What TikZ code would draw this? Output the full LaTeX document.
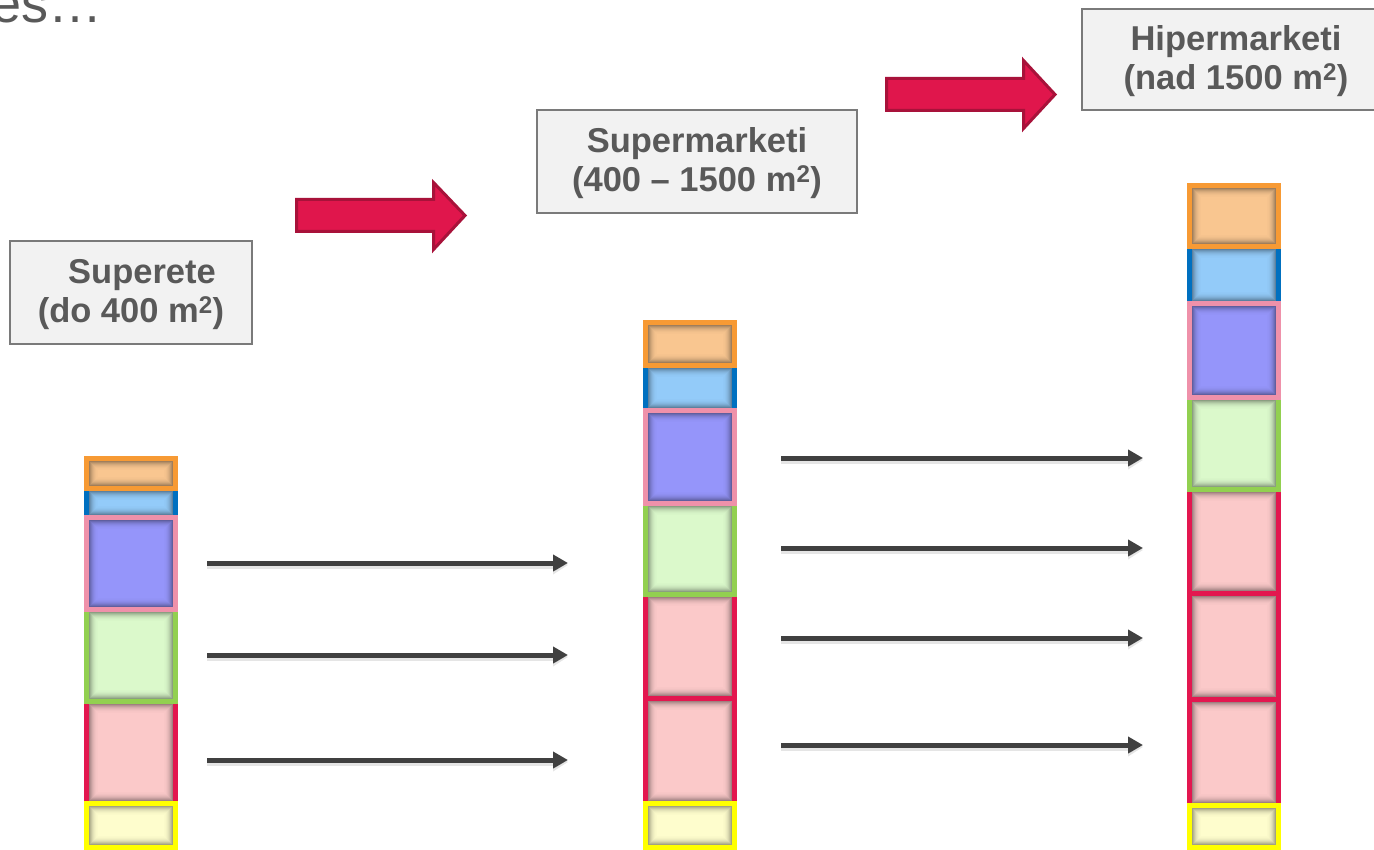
\documentclass[tikz,border=0pt]{standalone}
\usepackage{fontspec}
\setmainfont{Liberation Sans}
\usetikzlibrary{arrows.meta}
\definecolor{txtgray}{HTML}{595959}
\definecolor{lblfill}{HTML}{F2F2F2}
\definecolor{lbldraw}{HTML}{7A7A7A}
\definecolor{arrgray}{HTML}{404040}
\definecolor{bigred}{HTML}{E0164C}
\definecolor{bigredd}{HTML}{A8123A}
\definecolor{orangeB}{HTML}{F79A34}
\definecolor{orangeF}{HTML}{F9C690}
\definecolor{blueB}{HTML}{0070C0}
\definecolor{blueF}{HTML}{93CBF9}
\definecolor{pinkB}{HTML}{EF91AA}
\definecolor{purpleF}{HTML}{9595FA}
\definecolor{greenB}{HTML}{92D050}
\definecolor{greenF}{HTML}{DBF9CB}
\definecolor{redB}{HTML}{E3174F}
\definecolor{redF}{HTML}{FBC9C9}
\definecolor{yellowB}{HTML}{FFFF00}
\definecolor{yellowF}{HTML}{FEFDCD}
\tikzset{
  blk/.style={rectangle, inner sep=0pt, outer sep=0pt, line width=5pt, minimum width=89pt,
    path picture={
      \foreach \i/\o in {3/0.36,4/0.28,5/0.21,6/0.15,7/0.10,8/0.065,9/0.04,10/0.02,11/0.01}{
        \draw[black,opacity=\o,line width=1pt]
          ([xshift=\i pt,yshift=-\i pt]path picture bounding box.north west) rectangle
          ([xshift=-\i pt,yshift=\i pt]path picture bounding box.south east);
      }}},
  lbl/.style={rectangle, draw=lbldraw, fill=lblfill, line width=2pt, inner sep=0pt},
  lbltxt/.style={inner sep=0pt, align=center, text=txtgray, font=\fontsize{34.5}{39}\selectfont\bfseries},
  garrow/.style={draw=arrgray, line width=5pt, -{Triangle[length=15pt,width=16pt]}},
  gshadow/.style={draw=black, opacity=0.10, line width=8pt, -{Triangle[length=15pt,width=18pt]}},
  barrow/.style={draw=bigredd, fill=bigred, line width=3pt, line join=miter}
}
\newcommand\blk[6]{\node[blk,draw=#5,fill=#6,minimum height=#4pt-#3pt] (#1) at (#2,{(#3+#4)/2}) {};}
\begin{document}
\begin{tikzpicture}[x=1pt,y=-1pt]
\useasboundingbox (0,0) rectangle (1374,850);
\fill[white] (0,0) rectangle (1374,850);

% partial title
\node[anchor=base east, inner sep=0pt, text=txtgray, font=\fontsize{54}{60}\selectfont] (title) at (103,23) {es…};

% label boxes
\node[lbl, minimum width=242pt, minimum height=103pt] (lab1) at (131,292.5) {};
\node[lbltxt] (lab1t) at ([yshift=-2pt]lab1.center) {\hspace*{22pt}Superete\\(do 400 m\textsuperscript{2})};
\node[lbl, minimum width=320pt, minimum height=103pt] (lab2) at (697,161.5) {};
\node[lbltxt] (lab2t) at ([yshift=-2pt]lab2.center) {Supermarketi\\(400 \textendash{} 1500 m\textsuperscript{2})};
\node[lbl, minimum width=308pt, minimum height=101pt] (lab3) at (1236,59.5) {};
\node[lbltxt] (lab3t) at ([yshift=-2pt]lab3.center) {Hipermarketi\\(nad 1500 m\textsuperscript{2})};

% big red arrows
\draw[barrow] (296.5,199.5) -- (433.5,199.5) -- (433.5,182.5) -- (465,215.5) -- (433.5,249.5) -- (433.5,231.5) -- (296.5,231.5) -- cycle;
\draw[barrow] (886.5,78.5) -- (1023.5,78.5) -- (1023.5,60.5) -- (1055,94.5) -- (1023.5,128.5) -- (1023.5,110.5) -- (886.5,110.5) -- cycle;

% column 1
\blk{c1blue}{131}{488}{517}{blueB}{blueF}
\blk{c1red}{131}{701}{803}{redB}{redF}
\blk{c1green}{131}{609}{701}{greenB}{greenF}
\blk{c1pink}{131}{517}{609}{pinkB}{purpleF}
\blk{c1orange}{131}{458.5}{488}{orangeB}{orangeF}
\blk{c1yellow}{131}{803}{847.5}{yellowB}{yellowF}

% column 2
\blk{c2blue}{690}{366}{410}{blueB}{blueF}
\blk{c2redb}{690}{698}{803}{redB}{redF}
\blk{c2reda}{690}{594}{698}{redB}{redF}
\blk{c2green}{690}{503}{594}{greenB}{greenF}
\blk{c2pink}{690}{410}{503}{pinkB}{purpleF}
\blk{c2orange}{690}{322.5}{366}{orangeB}{orangeF}
\blk{c2yellow}{690}{803}{847.5}{yellowB}{yellowF}

% column 3
\blk{c3blue}{1234}{247}{304}{blueB}{blueF}
\blk{c3redc}{1234}{699}{805}{redB}{redF}
\blk{c3redb}{1234}{593}{699}{redB}{redF}
\blk{c3reda}{1234}{489}{593}{redB}{redF}
\blk{c3green}{1234}{397}{489}{greenB}{greenF}
\blk{c3pink}{1234}{304}{397}{pinkB}{purpleF}
\blk{c3orange}{1234}{185.5}{247}{orangeB}{orangeF}
\blk{c3yellow}{1234}{805}{847.5}{yellowB}{yellowF}

% gray arrows
\coordinate (p1s) at (207,563); \coordinate (p1e) at (568,563);
\coordinate (p2s) at (207,655); \coordinate (p2e) at (568,655);
\coordinate (p3s) at (207,760); \coordinate (p3e) at (568,760);
\coordinate (q1s) at (781,458); \coordinate (q1e) at (1143,458);
\coordinate (q2s) at (781,548); \coordinate (q2e) at (1143,548);
\coordinate (q3s) at (781,638); \coordinate (q3e) at (1143,638);
\coordinate (q4s) at (781,745); \coordinate (q4e) at (1143,745);
\foreach \a in {p1,p2,p3,q1,q2,q3,q4}{
  \draw[gshadow] ([yshift=-2pt]\a s) -- ([yshift=-2pt]\a e);
  \draw[garrow] (\a s) -- (\a e);}
\end{tikzpicture}
\end{document}
